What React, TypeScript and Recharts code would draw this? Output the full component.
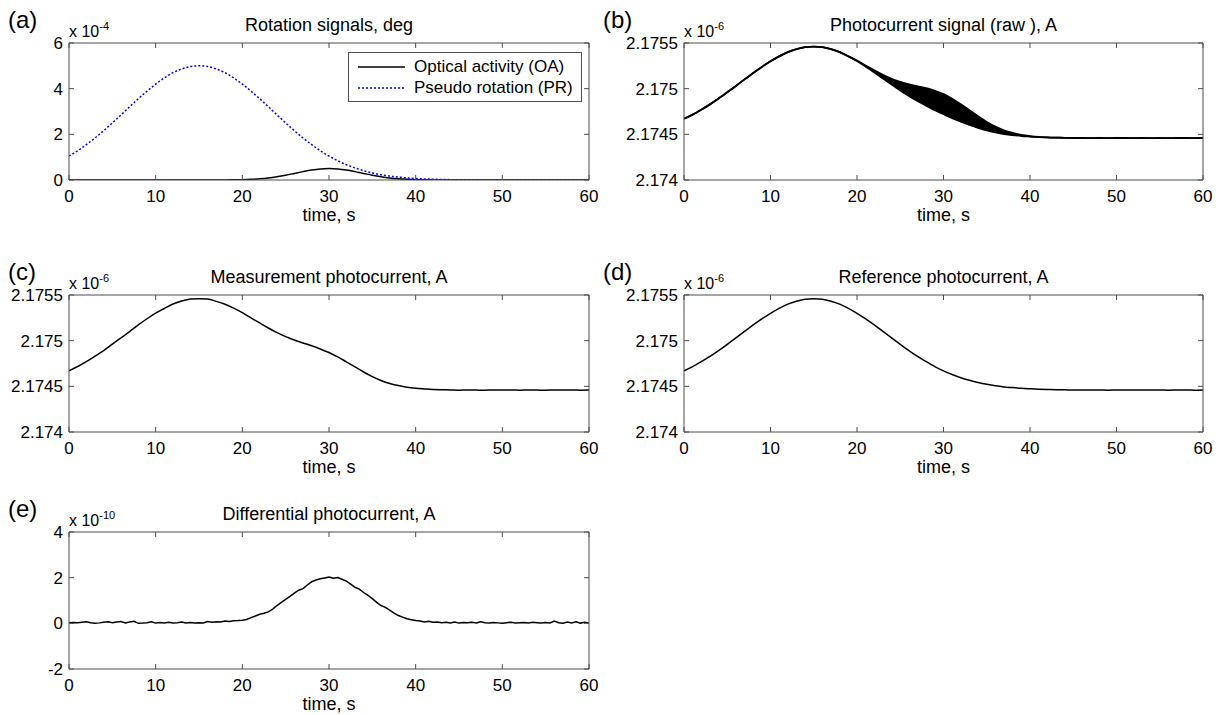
import React from "react";
import { ComposedChart, Line, Area, XAxis, YAxis, Legend } from "recharts";

const FONT = '"Liberation Sans", Arial, Helvetica, sans-serif';
const FRAME = "#4d4d4d";

// axis ticks
const timeTicks = [0, 10, 20, 30, 40, 50, 60];
const rotationTicks = [0, 2, 4, 6];
const currentTicks = [2.174, 2.1745, 2.175, 2.1755];
const diffTicks = [-2, 0, 2, 4];

// sample grids (s)
const seconds = Array.from({ length: 61 }, (_, i) => i);
const halfSeconds = Array.from({ length: 121 }, (_, i) => i / 2);

// (a) rotation signals, x 10^-4 deg
const oaSignal = [
	0, 0, 0, 0, 0, 0, 0, 0, 0, 0, 0, 0, 0, 0, 0, 0, 0,
	0.001, 0.003, 0.008, 0.016, 0.031, 0.055, 0.092, 0.145, 0.211, 0.288, 0.367, 0.436, 0.483,
	0.5,
	0.483, 0.436, 0.367, 0.288, 0.211, 0.145, 0.092, 0.055, 0.031, 0.016, 0.008, 0.003, 0.001,
	0, 0, 0, 0, 0, 0, 0, 0, 0, 0, 0, 0, 0, 0, 0, 0, 0,
];
const prSignal = [
	1.05, 1.28, 1.55, 1.84, 2.16, 2.5, 2.85, 3.21, 3.56, 3.89, 4.2, 4.47, 4.7, 4.86, 4.97,
	5.0,
	4.97, 4.86, 4.7, 4.47, 4.2, 3.89, 3.56, 3.21, 2.85, 2.5, 2.16, 1.84, 1.55, 1.28, 1.05,
	0.845, 0.67, 0.53, 0.41, 0.31, 0.23, 0.17, 0.13, 0.09, 0.065, 0.046, 0.032, 0.022, 0.015,
	0.01, 0.006, 0.004, 0.002, 0.001,
	0, 0, 0, 0, 0, 0, 0, 0, 0, 0, 0,
];

// (b) raw photocurrent envelope, x 10^-6 A
const rawLower = [
	2.17467, 2.174716, 2.17477, 2.174828, 2.174892, 2.17496, 2.17503, 2.175102, 2.175172, 2.175238,
	2.1753, 2.175354, 2.1754, 2.175432, 2.175454, 2.17546, 2.175454, 2.175432, 2.1754, 2.175354,
	2.175302, 2.175241, 2.175178, 2.175111, 2.175045, 2.174981, 2.174921, 2.174865, 2.174814, 2.174764,
	2.17472, 2.174677, 2.174638, 2.174603, 2.174571, 2.174543, 2.174521, 2.174503, 2.174492, 2.174481,
	2.174475, 2.174469, 2.174466, 2.174463, 2.174462, 2.17446, 2.17446, 2.174459, 2.17446, 2.174459,
	2.17446, 2.17446, 2.174459, 2.17446, 2.174459, 2.17446, 2.174459, 2.17446, 2.17446, 2.174459, 2.17446,
];
const rawUpper = [
	2.17467, 2.174716, 2.17477, 2.174828, 2.174892, 2.17496, 2.17503, 2.175102, 2.175172, 2.175238,
	2.1753, 2.175354, 2.1754, 2.175432, 2.175454, 2.17546, 2.175454, 2.175432, 2.1754, 2.175355,
	2.175308, 2.175254, 2.175202, 2.175152, 2.175108, 2.175074, 2.175047, 2.175026, 2.175005, 2.174977,
	2.17494, 2.17489, 2.174829, 2.174764, 2.174697, 2.174636, 2.174584, 2.174544, 2.174516, 2.174494,
	2.174481, 2.174472, 2.174467, 2.174464, 2.174462, 2.17446, 2.17446, 2.174459, 2.17446, 2.174459,
	2.17446, 2.17446, 2.174459, 2.17446, 2.174459, 2.17446, 2.174459, 2.17446, 2.17446, 2.174459, 2.17446,
];

// (c) measurement photocurrent, x 10^-6 A
const measCurrent = [
	2.17467, 2.174717, 2.174771, 2.17483, 2.174891, 2.174962, 2.175031, 2.1751, 2.175173, 2.17524,
	2.175301, 2.175352, 2.175401, 2.175434, 2.175455, 2.17546, 2.175456, 2.17543, 2.175398, 2.175356,
	2.175306, 2.17525, 2.175194, 2.175139, 2.175088, 2.175044, 2.175007, 2.174975, 2.174944, 2.174909,
	2.17487, 2.174822, 2.174768, 2.174713, 2.174657, 2.174606, 2.174564, 2.174531, 2.174508, 2.17449,
	2.174479, 2.174472, 2.174466, 2.174463, 2.174461, 2.174458, 2.174461, 2.174459, 2.174457, 2.17446,
	2.174459, 2.174461, 2.174458, 2.17446, 2.174459, 2.174457, 2.17446, 2.174459, 2.174461, 2.174458, 2.174459,
];

// (d) reference photocurrent, x 10^-6 A
const refCurrent = [
	2.17467, 2.174716, 2.17477, 2.174828, 2.174892, 2.17496, 2.17503, 2.175102, 2.175172, 2.175238,
	2.1753, 2.175354, 2.1754, 2.175432, 2.175454, 2.17546, 2.175454, 2.175432, 2.1754, 2.175354,
	2.1753, 2.175238, 2.175172, 2.175102, 2.17503, 2.17496, 2.174892, 2.174828, 2.17477, 2.174716,
	2.17467, 2.174629, 2.174594, 2.174566, 2.174542, 2.174522, 2.174506, 2.174494, 2.174486, 2.174478,
	2.174473, 2.174469, 2.174466, 2.174463, 2.174462, 2.17446, 2.174461, 2.174459, 2.17446, 2.174458,
	2.174461, 2.17446, 2.174459, 2.174461, 2.174459, 2.17446, 2.174458, 2.17446, 2.174461, 2.174458, 2.17446,
];

// (e) differential photocurrent, x 10^-10 A, every 0.5 s
const diffCurrent = [
	0.02, 0.04, 0.03, 0.05, 0.07, 0.03, 0.0, 0.02, 0.05, 0.07,
	0.03, 0.06, 0.08, 0.02, 0.06, 0.09, 0.0, 0.01, 0.03, 0.07,
	0.01, 0.04, 0.02, 0.05, 0.01, 0.03, 0.06, 0.02, 0.04, 0.01,
	0.03, 0.02, 0.08, 0.05, 0.07, 0.06, 0.1, 0.08, 0.11, 0.12,
	0.14, 0.17, 0.25, 0.32, 0.4, 0.44, 0.5, 0.62, 0.78, 0.92,
	1.05, 1.18, 1.32, 1.45, 1.52, 1.68, 1.82, 1.9, 1.95, 1.99,
	2.03, 1.98, 2.01, 1.93, 1.85, 1.72, 1.58, 1.5, 1.35, 1.22,
	1.08, 0.92, 0.78, 0.7, 0.58, 0.45, 0.34, 0.27, 0.2, 0.16,
	0.12, 0.1, 0.06, 0.09, 0.05, 0.06, 0.03, 0.05, 0.02, 0.06,
	0.01, 0.04, 0.03, 0.05, 0.02, 0.07, 0.03, 0.01, 0.04, 0.02,
	0.0, 0.03, 0.05, 0.01, 0.03, 0.04, 0.02, 0.05, 0.03, 0.01,
	0.04, 0.02, 0.1, 0.03, 0.0, 0.06, 0.02, 0.07, 0.01, 0.05,
	0.01,
];

const legendNames = ["Optical activity (OA)", "Pseudo rotation (PR)"];

const mainRows = seconds.map((t, i) => ({
	t,
	oa: oaSignal[i],
	pr: prSignal[i],
	raw: [rawLower[i], rawUpper[i]],
	meas: measCurrent[i],
	ref: refCurrent[i],
}));
const diffRows = halfSeconds.map((t, i) => ({ t, diff: diffCurrent[i] }));

// layout
const COLUMNS = [
	{ left: 0, plotLeft: 69, plotRight: 589, letterX: 8 },
	{ left: 610, plotLeft: 684, plotRight: 1203, letterX: 603 },
];
const ROW_TOPS = [43, 295, 532];
const PLOT_H = 137;
const CHART_W = 610;
const CHART_H = 252;
const BOTTOM_AXIS_H = 30;
const LEFT_AXIS_W = 60;

const frame = { stroke: FRAME, strokeWidth: 1 };
const tickFont = { fontSize: 17, fill: "#000" };
const noLabel = () => <g />;

function LegendBox() {
	return (
		<div style={{ border: `1px solid ${FRAME}`, background: "#fff", width: 232, padding: "3px 0", fontFamily: FONT }}>
			{legendNames.map((name, i) => (
				<div key={name} style={{ display: "flex", alignItems: "center", height: 21 }}>
					<svg width={56} height={10} style={{ marginLeft: 9 }}>
						<line
							x1={0}
							x2={47}
							y1={5}
							y2={5}
							stroke={i === 0 ? "#000" : "#0000ff"}
							strokeWidth={1.5}
							strokeDasharray={i === 0 ? undefined : "2 2"}
						/>
					</svg>
					<span style={{ fontSize: 17, color: "#000" }}>{name}</span>
				</div>
			))}
		</div>
	);
}

function Panel({ col, row, letter, title, exponent, yDomain, yTicks, data, children }: any) {
	const c = COLUMNS[col];
	const plotTop = ROW_TOPS[row];
	const top = plotTop - 43;
	return (
		<>
			<div style={{ position: "absolute", left: c.letterX, top: plotTop - 37, fontSize: 24, lineHeight: "28px" }}>
				{letter}
			</div>
			<div style={{ position: "absolute", left: c.plotLeft, top: plotTop - 21, fontSize: 16, lineHeight: "20px", whiteSpace: "nowrap" }}>
				x 10<span style={{ fontSize: 11, position: "relative", top: -7 }}>{exponent}</span>
			</div>
			<div style={{ position: "absolute", left: c.left, top }}>
				<ComposedChart
					width={CHART_W}
					height={CHART_H}
					data={data}
					margin={{
						top: 42,
						left: c.plotLeft - c.left - LEFT_AXIS_W,
						right: c.left + CHART_W - c.plotRight - 1,
						bottom: CHART_H - 43 - PLOT_H - BOTTOM_AXIS_H,
					}}
				>
					<XAxis
						type="number"
						dataKey="t"
						domain={[0, 60]}
						ticks={timeTicks}
						height={BOTTOM_AXIS_H}
						tickSize={-5}
						tickMargin={15}
						tick={tickFont}
						axisLine={frame}
						tickLine={frame}
						allowDataOverflow
						label={{ value: "time, s", position: "bottom", offset: -2, fontSize: 18, fill: "#000" }}
					/>
					<XAxis
						xAxisId="top"
						orientation="top"
						type="number"
						dataKey="t"
						domain={[0, 60]}
						ticks={timeTicks}
						height={1}
						tickSize={-5}
						tick={noLabel}
						axisLine={frame}
						tickLine={frame}
						allowDataOverflow
						label={{ value: title, position: "top", offset: 11, fontSize: 18, fill: "#000" }}
					/>
					<YAxis
						type="number"
						domain={yDomain}
						ticks={yTicks}
						width={LEFT_AXIS_W}
						tickSize={-5}
						tickMargin={11}
						tick={tickFont}
						axisLine={frame}
						tickLine={frame}
						allowDataOverflow
					/>
					<YAxis
						yAxisId="right"
						orientation="right"
						type="number"
						domain={yDomain}
						ticks={yTicks}
						width={1}
						tickSize={-5}
						tick={noLabel}
						axisLine={frame}
						tickLine={frame}
						allowDataOverflow
					/>
					{children}
				</ComposedChart>
			</div>
		</>
	);
}

export default function App() {
	return (
		<div
			style={{
				position: "absolute",
				left: 0,
				top: 0,
				width: 1220,
				height: 715,
				background: "#fff",
				overflow: "hidden",
				fontFamily: FONT,
				color: "#000",
			}}
		>
			<Panel col={0} row={0} letter="(a)" title="Rotation signals, deg" exponent="-4" yDomain={[0, 6]} yTicks={rotationTicks} data={mainRows}>
				<Line type="monotone" dataKey="oa" name={legendNames[0]} stroke="#000" strokeWidth={1.5} dot={false} isAnimationActive={false} />
				<Line type="monotone" dataKey="pr" name={legendNames[1]} stroke="#0000ff" strokeWidth={1.5} strokeDasharray="2 2" dot={false} isAnimationActive={false} />
				<Legend layout="horizontal" verticalAlign="middle" content={LegendBox} wrapperStyle={{ left: 348, top: 52, width: 234 }} />
			</Panel>
			<Panel col={1} row={0} letter="(b)" title="Photocurrent signal (raw ), A" exponent="-6" yDomain={[2.174, 2.1755]} yTicks={currentTicks} data={mainRows}>
				<Area type="monotone" dataKey="raw" stroke="#000" strokeWidth={1.8} fill="#000" fillOpacity={1} dot={false} activeDot={false} isAnimationActive={false} />
			</Panel>
			<Panel col={0} row={1} letter="(c)" title="Measurement photocurrent, A" exponent="-6" yDomain={[2.174, 2.1755]} yTicks={currentTicks} data={mainRows}>
				<Line type="monotone" dataKey="meas" stroke="#000" strokeWidth={1.5} dot={false} isAnimationActive={false} />
			</Panel>
			<Panel col={1} row={1} letter="(d)" title="Reference photocurrent, A" exponent="-6" yDomain={[2.174, 2.1755]} yTicks={currentTicks} data={mainRows}>
				<Line type="monotone" dataKey="ref" stroke="#000" strokeWidth={1.5} dot={false} isAnimationActive={false} />
			</Panel>
			<Panel col={0} row={2} letter="(e)" title="Differential photocurrent, A" exponent="-10" yDomain={[-2, 4]} yTicks={diffTicks} data={diffRows}>
				<Line type="linear" dataKey="diff" stroke="#000" strokeWidth={1.5} dot={false} isAnimationActive={false} />
			</Panel>
		</div>
	);
}
